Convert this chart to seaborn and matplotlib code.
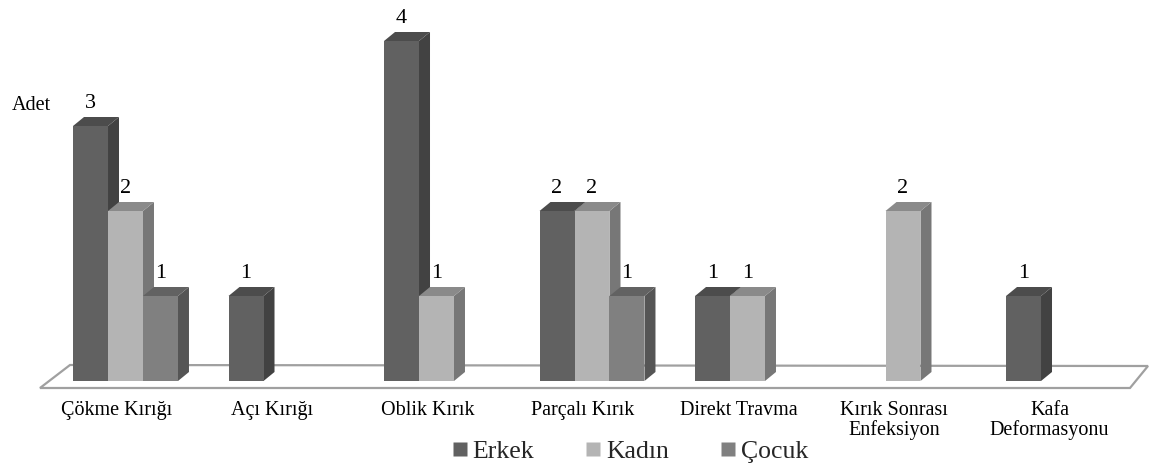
import matplotlib
matplotlib.use("Agg")
import matplotlib.pyplot as plt
import seaborn as sns
import pandas as pd
from matplotlib.patches import Polygon
from matplotlib.lines import Line2D

# ---- data ----
categories = ["Çökme Kırığı", "Açı Kırığı", "Oblik Kırık", "Parçalı Kırık",
              "Direkt Travma", "Kırık Sonrası\nEnfeksiyon", "Kafa\nDeformasyonu"]
series = ["Erkek", "Kadın", "Çocuk"]
erkek = [3, 1, 4, 2, 1, 0, 1]
kadin = [2, 0, 1, 2, 1, 2, 0]
cocuk = [1, 0, 0, 1, 0, 0, 0]
y_title = "Adet"

df = pd.DataFrame({
    "category": categories * 3,
    "series": [s for s in series for _ in categories],
    "value": erkek + kadin + cocuk,
})

# ---- styles ----
front_col = {"Erkek": "#616161", "Kadın": "#b4b4b4", "Çocuk": "#808080"}
top_col = {"Erkek": "#4c4c4c", "Kadın": "#8a8a8a", "Çocuk": "#626262"}
side_col = {"Erkek": "#424242", "Kadın": "#777777", "Çocuk": "#555555"}

sns.set_style("white")
plt.rcParams["font.family"] = ["Liberation Serif", "DejaVu Serif"]

W, H = 1154, 468
fig = plt.figure(figsize=(W / 100, H / 100), dpi=100)
ax = fig.add_axes([0, 0, 1, 1])

# pixel <-> data geometry
px_per_x = 155.5
px_per_y = 85.0
x0_px = 125.5      # pixel of first category centre
base_px = 381.0    # pixel row of value 0
xmin = -x0_px / px_per_x
xmax = xmin + W / px_per_x
ymin = (base_px - H) / px_per_y
ymax = base_px / px_per_y


def dx(px):
    return xmin + px / px_per_x


def dy(py):
    return (base_px - py) / px_per_y


sns.barplot(data=df, x="category", y="value", hue="series", order=categories,
            hue_order=series, palette=front_col, width=0.675, saturation=1,
            errorbar=None, legend=False, ax=ax)
ax.set_xlim(xmin, xmax)
ax.set_ylim(ymin, ymax)
ax.set_axis_off()

# floor of the 3D plot
floor = Polygon([(dx(40), dy(388)), (dx(70), dy(365)), (dx(1148), dy(366)),
                 (dx(1130), dy(388))], closed=True, facecolor="white",
                edgecolor="#a0a0a0", linewidth=1.6, zorder=1)
ax.add_patch(floor)

# depth of bars
ddx = 11 / px_per_x
ddy = 9 / px_per_y

bars = []
for s, cont in zip(series, ax.containers):
    for p in cont.patches:
        if p.get_height() <= 0:
            p.set_visible(False)
            continue
        bars.append((p.get_x(), s, p))
bars.sort(key=lambda t: t[0])

for k, (_, s, p) in enumerate(bars):
    z = 3 + k * 0.1
    x0 = p.get_x()
    w = p.get_width()
    h = p.get_height()
    x1 = x0 + w
    side = Polygon([(x1, 0), (x1 + ddx, ddy), (x1 + ddx, h + ddy), (x1, h)],
                   closed=True, facecolor=side_col[s], edgecolor="none", zorder=z)
    top = Polygon([(x0, h), (x0 + ddx, h + ddy), (x1 + ddx, h + ddy), (x1, h)],
                  closed=True, facecolor=top_col[s], edgecolor="none", zorder=z + 0.01)
    ax.add_patch(side)
    ax.add_patch(top)
    p.set_zorder(z + 0.02)
    p.set_linewidth(0)
    ax.text(x0 + w / 2, h + 18 / px_per_y, f"{int(h)}", ha="center",
            va="baseline", fontsize=16, color="black", zorder=10)

# category labels
for i, c in enumerate(categories):
    ax.text(i - 9 / px_per_x, dy(401), c, ha="center", va="top", fontsize=14.5,
            linespacing=1.0, color="black")

# axis title
ax.text(dx(12), dy(110), y_title, ha="left", va="baseline", fontsize=14.5,
        color="black")

# legend
handles = [Line2D([], [], marker="s", linestyle="none", markersize=10.5,
                  markerfacecolor=front_col[s], markeredgecolor="none", label=s)
           for s in series]
fig.legend(handles=handles, loc="center", bbox_to_anchor=(0.546, 0.035), ncol=3,
           frameon=False, fontsize=18.5, handlelength=0.6, handletextpad=0.2,
           columnspacing=2.0, borderpad=0)

fig.savefig("out.png", dpi=100, facecolor="white")
